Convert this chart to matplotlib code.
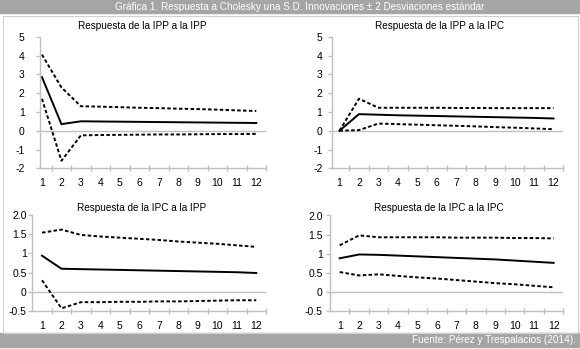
import matplotlib
matplotlib.use("Agg")
from matplotlib import pyplot as plt
from matplotlib.patches import Rectangle
import numpy as np

plt.rcParams['font.family'] = ['Liberation Sans Narrow', 'Liberation Sans', 'DejaVu Sans']

periodos = np.arange(1, 13)

# IPP a la IPP
ipp_ipp = [2.85, 0.35, 0.5, 0.49, 0.48, 0.47, 0.46, 0.45, 0.44, 0.43, 0.42, 0.41]
ipp_ipp_sup = [4.05, 2.3, 1.3, 1.28, 1.25, 1.22, 1.2, 1.17, 1.15, 1.12, 1.08, 1.05]
ipp_ipp_inf = [1.7, -1.6, -0.25, -0.23, -0.22, -0.21, -0.2, -0.2, -0.19, -0.18, -0.18, -0.17]

# IPP a la IPC
ipp_ipc = [0.0, 0.88, 0.85, 0.82, 0.8, 0.78, 0.76, 0.74, 0.72, 0.7, 0.68, 0.65]
ipp_ipc_sup = [0.0, 1.7, 1.22, 1.22, 1.22, 1.22, 1.21, 1.21, 1.2, 1.2, 1.2, 1.2]
ipp_ipc_inf = [0.0, 0.03, 0.38, 0.35, 0.32, 0.29, 0.26, 0.23, 0.19, 0.16, 0.12, 0.08]

# IPC a la IPP
ipc_ipp = [0.94, 0.6, 0.59, 0.58, 0.57, 0.56, 0.55, 0.54, 0.53, 0.52, 0.51, 0.49]
ipc_ipp_sup = [1.54, 1.62, 1.48, 1.44, 1.41, 1.38, 1.35, 1.31, 1.28, 1.25, 1.21, 1.17]
ipc_ipp_inf = [0.3, -0.43, -0.27, -0.27, -0.26, -0.26, -0.25, -0.25, -0.24, -0.23, -0.22, -0.22]

# IPC a la IPC
ipc_ipc = [0.88, 0.98, 0.97, 0.95, 0.93, 0.91, 0.89, 0.87, 0.85, 0.82, 0.79, 0.76]
ipc_ipc_sup = [1.22, 1.48, 1.43, 1.43, 1.43, 1.43, 1.42, 1.42, 1.42, 1.41, 1.41, 1.4]
ipc_ipc_inf = [0.52, 0.43, 0.46, 0.42, 0.38, 0.35, 0.31, 0.27, 0.23, 0.2, 0.16, 0.12]

yt_arriba = [5, 4, 3, 2, 1, 0, -1, -2]
yl_arriba = ['5', '4', '3', '2', '1', '0', '-1', '-2']
yt_abajo = [2.0, 1.5, 1.0, 0.5, 0.0, -0.5]
yl_abajo = ['2.0', '1.5', '1', '0.5', '0', '-0.5']

W, H = 580, 349
gris_eje = '#bfbfbf'
gris_barra = '#a5a5a5'

fig = plt.figure(figsize=(W / 100, H / 100), dpi=100)


def px_axes(x0, x1, y0, y1):
    return fig.add_axes([x0 / W, 1 - y1 / H, (x1 - x0) / W, (y1 - y0) / H])


# (rect en px, xlim izq, pad eje y, centro titulo px, pad titulo, titulo, series, ticks)
paneles = [
    ((40, 266, 36.7, 168.3), 0.9, 8, 142, 5.5, 'Respuesta de la IPP a la IPP', ipp_ipp, ipp_ipp_sup, ipp_ipp_inf, yt_arriba, yl_arriba),
    ((331.7, 563.3, 36.7, 168.3), 0.6, 3.6, 440, 5.5, 'Respuesta de la IPP a la IPC', ipp_ipc, ipp_ipc_sup, ipp_ipc_inf, yt_arriba, yl_arriba),
    ((31.7, 266, 215, 311), 0.47, 0.5, 142, 3, 'Respuesta de la IPC a la IPP', ipc_ipp, ipc_ipp_sup, ipc_ipp_inf, yt_abajo, yl_abajo),
    ((330, 563.3, 215.5, 311), 0.5, 2.2, 439, 3, 'Respuesta de la IPC a la IPC', ipc_ipc, ipc_ipc_sup, ipc_ipc_inf, yt_abajo, yl_abajo),
]

for rect, xizq, ypad, tcx, tpad, titulo, media, sup, inf, yt, yl in paneles:
    ax = px_axes(*rect)
    ax.plot(periodos, media, color='black', lw=1.4, solid_joinstyle='miter')
    ax.plot(periodos, sup, color='black', lw=1.4, linestyle=(0, (1.8, 1.2)))
    ax.plot(periodos, inf, color='black', lw=1.4, linestyle=(0, (1.8, 1.2)))
    ax.axhline(0, color=gris_eje, lw=1, zorder=0)
    ax.set_xlim(xizq, 12.5)
    ax.set_ylim(min(yt), max(yt))
    ax.set_yticks(yt)
    ax.set_yticklabels(yl)
    ax.set_xticks(np.arange(1.5, 13, 1))
    ax.set_xticklabels([])
    ax.set_xticks(periodos, minor=True)
    ax.set_xticklabels([str(p) for p in periodos], minor=True)
    ax.tick_params(axis='x', which='major', direction='inout', length=5, color=gris_eje, width=1)
    ax.tick_params(axis='x', which='minor', length=0, pad=7, labelsize=7.5)
    ax.tick_params(axis='y', direction='out', length=3, color=gris_eje, width=1, pad=ypad, labelsize=7.5)
    for s in ['top', 'right']:
        ax.spines[s].set_visible(False)
    for s in ['left', 'bottom']:
        ax.spines[s].set_color(gris_eje)
        ax.spines[s].set_linewidth(1)
    ax.patch.set_alpha(0)
    ax.set_title(titulo, fontsize=7.2, pad=tpad, x=(tcx - rect[0]) / (rect[1] - rect[0]))

# barras de encabezado y pie
fig.patches.append(Rectangle((0, 1 - 12.5 / H), 1, 12.5 / H, transform=fig.transFigure,
                             color=gris_barra, zorder=0))
fig.patches.append(Rectangle((0, 2 / H), 1, 14 / H, transform=fig.transFigure,
                             color=gris_barra, zorder=0))
fig.patches.append(Rectangle((2.5 / W, 16 / H), (W - 5) / W, (H - 28.5 - 16) / H + 12.5 / H,
                             transform=fig.transFigure, fill=False, edgecolor='#d0d0d0', lw=0.8, zorder=0))

fig.text(300 / W, 1 - 6.5 / H, 'Gráfica 1. Respuesta a Cholesky una S.D. Innovaciones ± 2 Desviaciones estándar',
         color='white', fontsize=7.2, ha='center', va='center')
fig.text(576 / W, 9 / H, 'Fuente: Pérez y Trespalacios (2014).', color='white', fontsize=7.2,
         ha='right', va='center')

fig.savefig('out.png', dpi=100)
